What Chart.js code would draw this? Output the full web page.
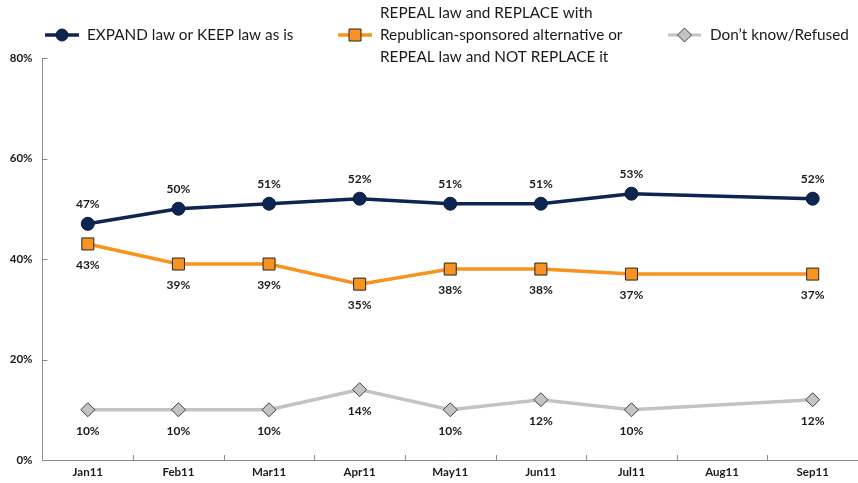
<!DOCTYPE html>
<html><head><meta charset="utf-8">
<script src="https://cdn.jsdelivr.net/npm/chart.js@4"></script>
<style>html,body{margin:0;padding:0;background:#fff}#wrap{width:858px;height:483px;position:relative}</style>
</head><body><div id="wrap"><canvas id="c"></canvas></div>
<script>
const categories = ['Jan11','Feb11','Mar11','Apr11','May11','Jun11','Jul11','Aug11','Sep11'];
const expandKeep = [47,50,51,52,51,51,53,null,52];
const repealReplace = [43,39,39,35,38,38,37,null,37];
const dontKnow = [10,10,10,14,10,12,10,null,12];
const yTicks = [0,20,40,60,80];
const seriesNames = [
  ['EXPAND law or KEEP law as is'],
  ['REPEAL law and REPLACE with','Republican-sponsored alternative or','REPEAL law and NOT REPLACE it'],
  ['Don\u2019t know/Refused']
];

const NAVY='#0e2452', ORANGE='#f7931e', GRAY='#c3c3c3', DARK='#262626';
const FONT='Lato, "Open Sans", sans-serif';

const labelPlugin = {
  id:'labels',
  afterDatasetsDraw(chart){
    const ctx=chart.ctx;
    ctx.save();
    ctx.font='bold 12px '+FONT;
    ctx.fillStyle='#1a1a1a';
    ctx.textAlign='center';ctx.textBaseline='middle';
    chart.data.datasets.forEach((ds,di)=>{
      const meta=chart.getDatasetMeta(di);
      meta.data.forEach((pt,i)=>{
        const v=ds.data[i]; if(v==null) return;
        const off = di===0 ? -20 : 21;
        ctx.fillText(v+'%', pt.x, pt.y+off);
      });
    });
    ctx.restore();
  }
};

const axisPlugin = {
  id:'axisTicks',
  afterDraw(chart){
    const ctx=chart.ctx, x=chart.scales.x, y=chart.scales.y, a=chart.chartArea;
    ctx.save();
    ctx.strokeStyle='#8c8c8c';ctx.lineWidth=1;
    ctx.beginPath();
    yTicks.forEach(t=>{const py=Math.round(y.getPixelForValue(t))+0.5;ctx.moveTo(a.left,py);ctx.lineTo(a.left+5,py);});
    for(let i=0;i<categories.length-1;i++){
      const px=Math.round((x.getPixelForTick(i)+x.getPixelForTick(i+1))/2)+0.5;
      ctx.moveTo(px,a.bottom);ctx.lineTo(px,a.bottom-5);
    }
    ctx.stroke();
    ctx.restore();
  }
};

function drawMarker(ctx,type,x,y){
  ctx.beginPath();
  if(type===0){ctx.arc(x,y,6,0,Math.PI*2);ctx.fillStyle=NAVY;ctx.strokeStyle='#0a1a3a';}
  else if(type===1){ctx.rect(x-6,y-6,12,12);ctx.fillStyle=ORANGE;ctx.strokeStyle=DARK;}
  else {ctx.moveTo(x-7,y);ctx.lineTo(x,y-7);ctx.lineTo(x+7,y);ctx.lineTo(x,y+7);ctx.closePath();ctx.fillStyle=GRAY;ctx.strokeStyle='#404040';}
  ctx.lineWidth=1;ctx.fill();ctx.stroke();
}

const legendPlugin = {
  id:'customLegend',
  afterDraw(chart){
    const ctx=chart.ctx;
    ctx.save();
    const items=[
      {x1:45,x2:79,tx:87,col:NAVY,lw:3.5},
      {x1:338,x2:372,tx:380,col:ORANGE,lw:3.5},
      {x1:668,x2:701,tx:710,col:GRAY,lw:3}
    ];
    const ly=35;
    items.forEach((it,i)=>{
      ctx.strokeStyle=it.col;ctx.lineWidth=it.lw;
      ctx.beginPath();ctx.moveTo(it.x1,ly);ctx.lineTo(it.x2,ly);ctx.stroke();
      drawMarker(ctx,i,(it.x1+it.x2)/2,ly);
      ctx.fillStyle='#1a1a1a';ctx.font='15.3px '+FONT;ctx.textAlign='left';ctx.textBaseline='middle';
      const lines=seriesNames[i];
      const start=ly-(lines.length-1)*11;
      lines.forEach((t,j)=>ctx.fillText(t,it.tx,start+j*22));
    });
    ctx.restore();
  }
};

new Chart(document.getElementById('c'),{
  type:'line',
  data:{labels:categories,datasets:[
    {label:seriesNames[0].join(' '),data:expandKeep,borderColor:NAVY,backgroundColor:NAVY,pointBorderColor:'#0a1a3a',borderWidth:3.5,pointStyle:'circle',pointRadius:6.5,pointBorderWidth:1,spanGaps:true,tension:0},
    {label:seriesNames[1].join(' '),data:repealReplace,borderColor:ORANGE,backgroundColor:ORANGE,pointBorderColor:DARK,borderWidth:3.5,pointStyle:'rect',pointRadius:8.5,pointBorderWidth:1,spanGaps:true,tension:0},
    {label:seriesNames[2][0],data:dontKnow,borderColor:GRAY,backgroundColor:GRAY,pointBorderColor:'#404040',borderWidth:3.5,pointStyle:'rectRot',pointRadius:7,pointBorderWidth:1,spanGaps:true,tension:0}
  ]},
  options:{
    responsive:true,maintainAspectRatio:false,animation:false,
    layout:{autoPadding:false,padding:{top:58,right:-2,left:0,bottom:0}},
    plugins:{legend:{display:false},tooltip:{enabled:false}},
    scales:{
      x:{offset:true,
        grid:{display:true,drawOnChartArea:false,drawTicks:false,color:'transparent'},
        border:{display:true,color:'#8c8c8c',width:1},
        ticks:{padding:5,color:'#1a1a1a',font:{family:FONT,size:11.5,weight:'bold'},maxRotation:0,autoSkip:false},
        afterFit(s){s.height=23;}
      },
      y:{min:0,max:80,
        afterBuildTicks(s){s.ticks=yTicks.map(v=>({value:v}));},
        grid:{display:true,drawOnChartArea:false,drawTicks:false,color:'transparent'},
        border:{display:true,color:'#8c8c8c',width:1},
        ticks:{padding:10,color:'#1a1a1a',font:{family:FONT,size:11.5,weight:'bold'},callback:v=>v+'%'},
        afterFit(s){s.width=42.5;}
      }
    }
  },
  plugins:[labelPlugin,axisPlugin,legendPlugin]
});
</script></body></html>
